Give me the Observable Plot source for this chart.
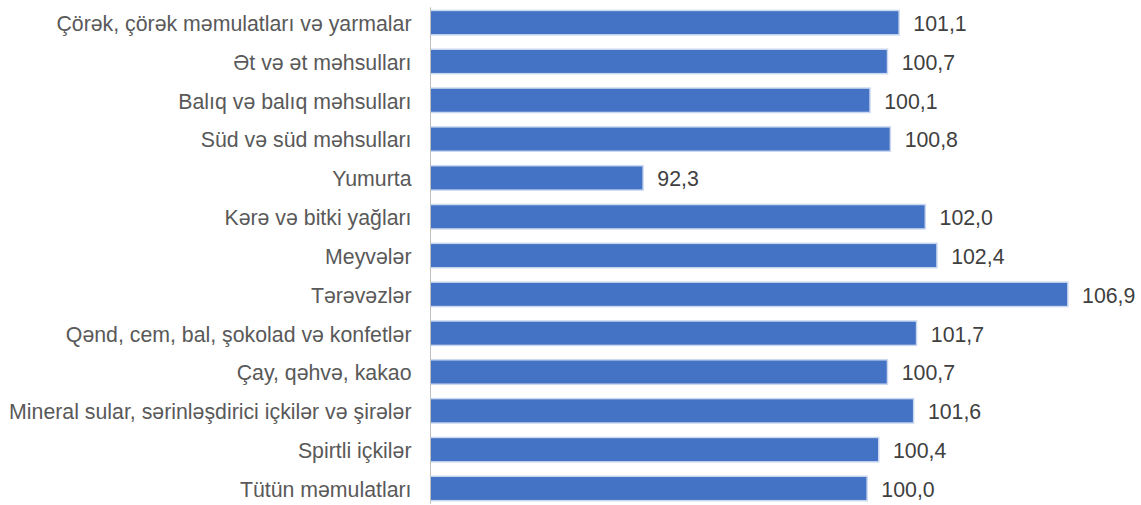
<!DOCTYPE html>
<html>
<head>
<meta charset="utf-8">
<script src="https://cdn.jsdelivr.net/npm/d3@7"></script>
<script src="https://cdn.jsdelivr.net/npm/@observablehq/plot@0.6"></script>
<style>
  html, body { margin: 0; padding: 0; background: #ffffff; }
  #chart svg { display: block; }
</style>
</head>
<body>
<div id="chart"></div>
<script>
const categories = [
  "Çörək, çörək məmulatları və yarmalar",
  "Ət və ət məhsulları",
  "Balıq və balıq məhsulları",
  "Süd və süd məhsulları",
  "Yumurta",
  "Kərə və bitki yağları",
  "Meyvələr",
  "Tərəvəzlər",
  "Qənd, cem, bal, şokolad və konfetlər",
  "Çay, qəhvə, kakao",
  "Mineral sular, sərinləşdirici içkilər və şirələr",
  "Spirtli içkilər",
  "Tütün məmulatları"
];
const values = [101.1, 100.7, 100.1, 100.8, 92.3, 102.0, 102.4, 106.9, 101.7, 100.7, 101.6, 100.4, 100.0];
const xDomain = [85, 107];

const data = categories.map((c, i) => ({category: c, value: values[i]}));
const fmt = v => v.toFixed(1).replace(".", ",");

const chart = Plot.plot({
  width: 1141,
  height: 505,
  marginLeft: 430,
  marginRight: 71,
  marginTop: 7.3,
  marginBottom: 1.2,
  x: {domain: xDomain, axis: null},
  y: {domain: categories, paddingInner: 0.41, paddingOuter: 0.1, round: false, label: null},
  style: {fontFamily: "Arial, 'Liberation Sans', sans-serif", fontSize: "21.3px", color: "#595959", background: "#ffffff"},
  marks: [
    Plot.barX(data, {x1: () => xDomain[0], x2: "value", y: "category", fill: "#c9d7ef", insetTop: -1.5, insetBottom: -1.5, insetRight: -1.5}),
    Plot.barX(data, {x1: () => xDomain[0], x2: "value", y: "category", fill: "#4472C4"}),
    Plot.ruleX([xDomain[0]], {stroke: "#bfbfbf", strokeWidth: 1}),
    Plot.axisY({tickSize: 0, tickPadding: 19, fontSize: 21.3, fill: "#595959", label: null, dy: 1}),
    Plot.text(data, {x: "value", y: "category", text: d => fmt(d.value), textAnchor: "start", dx: 14.5, dy: 1, fill: "#404040", fontSize: 21.3})
  ]
});
document.getElementById("chart").appendChild(chart);
</script>
</body>
</html>
